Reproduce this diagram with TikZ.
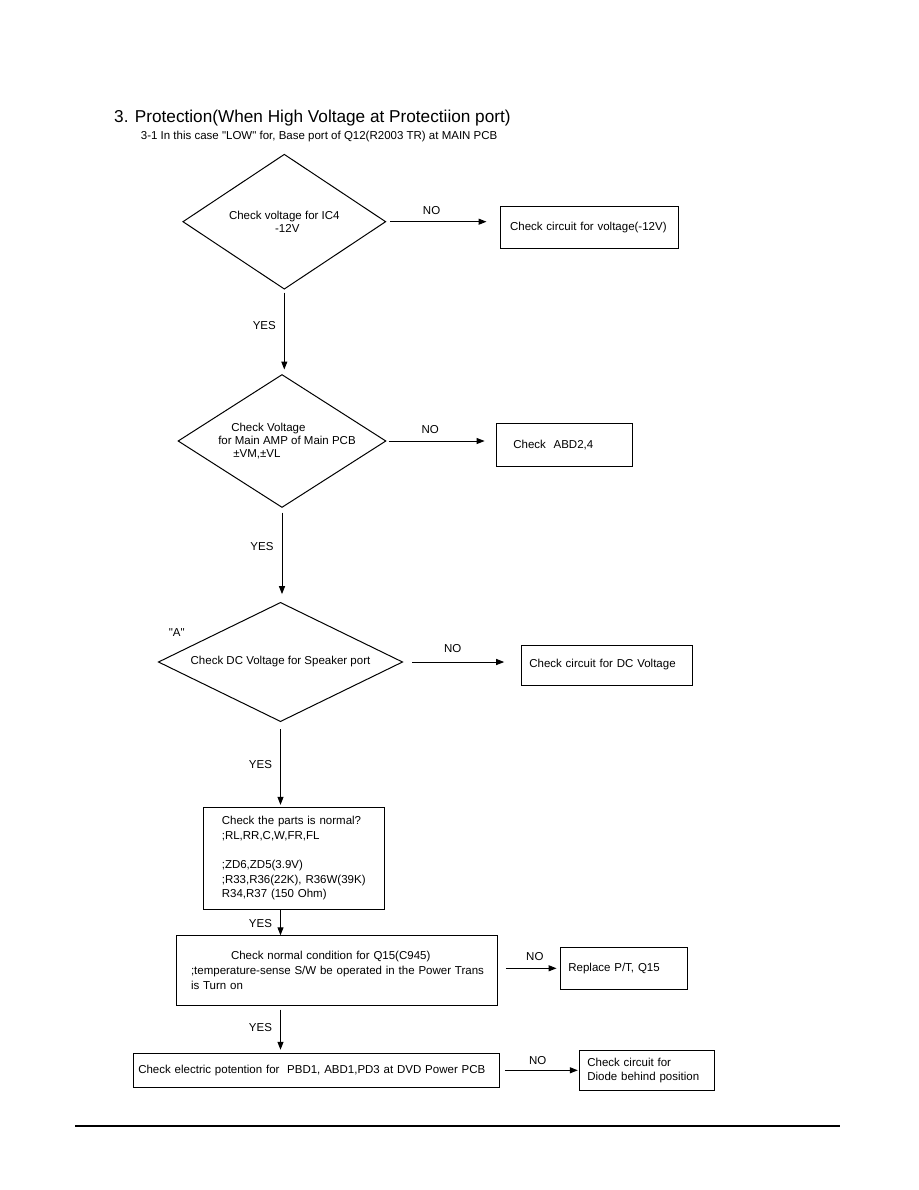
\documentclass[tikz,border=0pt]{standalone}
\usepackage{fontspec}
\setmainfont{Liberation Sans}[Ligatures=TeXOff]
\usetikzlibrary{arrows.meta, positioning, shapes.geometric}
\newcommand{\flowfont}{\fontsize{11.5pt}{14.7pt}\selectfont}
\newcommand{\headfont}{\fontsize{17.2pt}{20pt}\selectfont}

\begin{document}
\begin{tikzpicture}[
    x=1pt, y=-1pt,
    decision/.style={
        draw=black, shape=diamond, line width=1pt, inner sep=0pt,
        font=\flowfont, align=center
    },
    box/.style={
        draw=black, line width=1pt, inner ysep=0pt, font=\flowfont, align=left
    },
    arrow/.style={
        -{Triangle[length=8pt, width=6pt]}, line width=1pt, black
    },
    lbl/.style={font=\flowfont, inner sep=1.5pt}
]
\useasboundingbox (0,0) rectangle (918,1190);

\node[anchor=base west, font=\headfont, inner sep=0pt] (title) at (114,122.3) {3. Protection(When High Voltage at Protectiion port)};
\node[anchor=base west, font=\flowfont, inner sep=0pt] (subtitle) at (140.7,139.3) {3-1 In this case "LOW" for, Base port of Q12(R2003 TR) at MAIN PCB};

\node[decision, minimum width=203pt, minimum height=135pt, aspect=1.5] (ic4) at (284.3,221.7) {Check voltage for IC4\\[-1.5pt]\hspace*{6pt}-12V};
\node[decision, minimum width=208pt, minimum height=133pt, aspect=1.56, align=left] (ampv) at (282,441) {\hspace*{23pt}Check Voltage\\[-1.4pt]\hspace*{10pt}for Main AMP of Main PCB\\[-1.4pt]\hspace*{25pt}±VM,±VL};
\node[decision, minimum width=244.4pt, minimum height=119.3pt, aspect=2.05] (dcv) at (280.5,662) {Check DC Voltage for Speaker port};
\node[lbl, inner sep=0pt] (mark) at (176.7,633) {"A"};

\node[box, minimum height=42.3pt, text width=158.3pt, inner xsep=10pt] (cktv) at (589.2,227.2) {\mbox{Check circuit for voltage(-12V)}};
\node[box, minimum height=43.4pt, text width=102pt, inner xsep=17.3pt] (abd) at (564.4,445) {Check~ ABD2,4};
\node[box, minimum height=40pt, text width=155.4pt, inner xsep=7.6pt] (cktdc) at (607,665) {\mbox{Check circuit for DC Voltage}};

\node[box, minimum height=101.7pt, text width=144pt, inner xsep=18.5pt] (parts) at (293.8,858.2) {\mbox{Check the parts is normal?}\\;RL,RR,C,W,FR,FL\\[14.7pt];ZD6,ZD5(3.9V)\\\mbox{;R33,R36(22K), R36W(39K)}\\R34,R37 (150 Ohm)};
\node[box, minimum height=69.3pt, text width=292pt, inner xsep=14.3pt] (q15) at (337,970.4) {\hspace*{40pt}Check normal condition for Q15(C945)\\\mbox{;temperature-sense S/W be operated in the Power Trans}\\is Turn on};
\node[box, minimum height=34pt, text width=356pt, inner xsep=5pt] (potential) at (316.3,1070.3) {\mbox{Check electric potention for~ PBD1, ABD1,PD3 at DVD Power PCB}};
\node[box, minimum height=42pt, text width=110.7pt, inner xsep=8.3pt] (replace) at (623.7,968.3) {Replace P/T, Q15};
\node[box, minimum height=39.3pt, text width=119pt, inner xsep=8pt] (diode) at (646.8,1070.4) {Check circuit for\\\mbox{Diode behind position}};

\draw[arrow, shorten <=4pt, shorten >=13pt] (ic4.east) -- node[above=5.5pt, lbl, pos=0.4] {NO} (ic4.east -| cktv.west);
\draw[arrow, shorten <=2pt, shorten >=11pt] (ampv.east) -- node[above=5.5pt, lbl, pos=0.4] {NO} (ampv.east -| abd.west);
\draw[arrow, shorten <=9pt, shorten >=17pt] (dcv.east) -- node[above=7pt, lbl, pos=0.42] {NO} (dcv.east -| cktdc.west);
\draw[arrow, shorten <=8pt, shorten >=3pt] (q15.east |- replace.west) -- node[above=6pt, lbl, pos=0.6] {NO} (replace.west);
\draw[arrow, shorten <=5pt, shorten >=1pt] (potential.east) -- node[above=4pt, lbl, pos=0.48] {NO} (potential.east -| diode.west);

\draw[arrow, shorten <=3pt, shorten >=4.5pt] (ic4.south) -- node[left=6.5pt, lbl, pos=0.43] {YES} (ic4.south |- ampv.north);
\draw[arrow, shorten <=4.5pt, shorten >=7.7pt] (ampv.south) -- node[left=6.5pt, lbl, pos=0.41] {YES} (ampv.south |- dcv.north);
\draw[arrow, shorten <=7pt, shorten >=2pt] (dcv.south) -- node[left=6.5pt, lbl, pos=0.5] {YES} (dcv.south |- parts.north);
\draw[arrow] (parts.south -| dcv.south) -- node[left=6.5pt, lbl, pos=0.56] {YES} (q15.north -| dcv.south);
\draw[arrow, shorten <=4pt, shorten >=3pt] (q15.south -| dcv.south) -- node[left=6.5pt, lbl, pos=0.455] {YES} (potential.north -| dcv.south);

\draw[line width=1.2pt] (75,1126) -- (840,1126);

\end{tikzpicture}
\end{document}
